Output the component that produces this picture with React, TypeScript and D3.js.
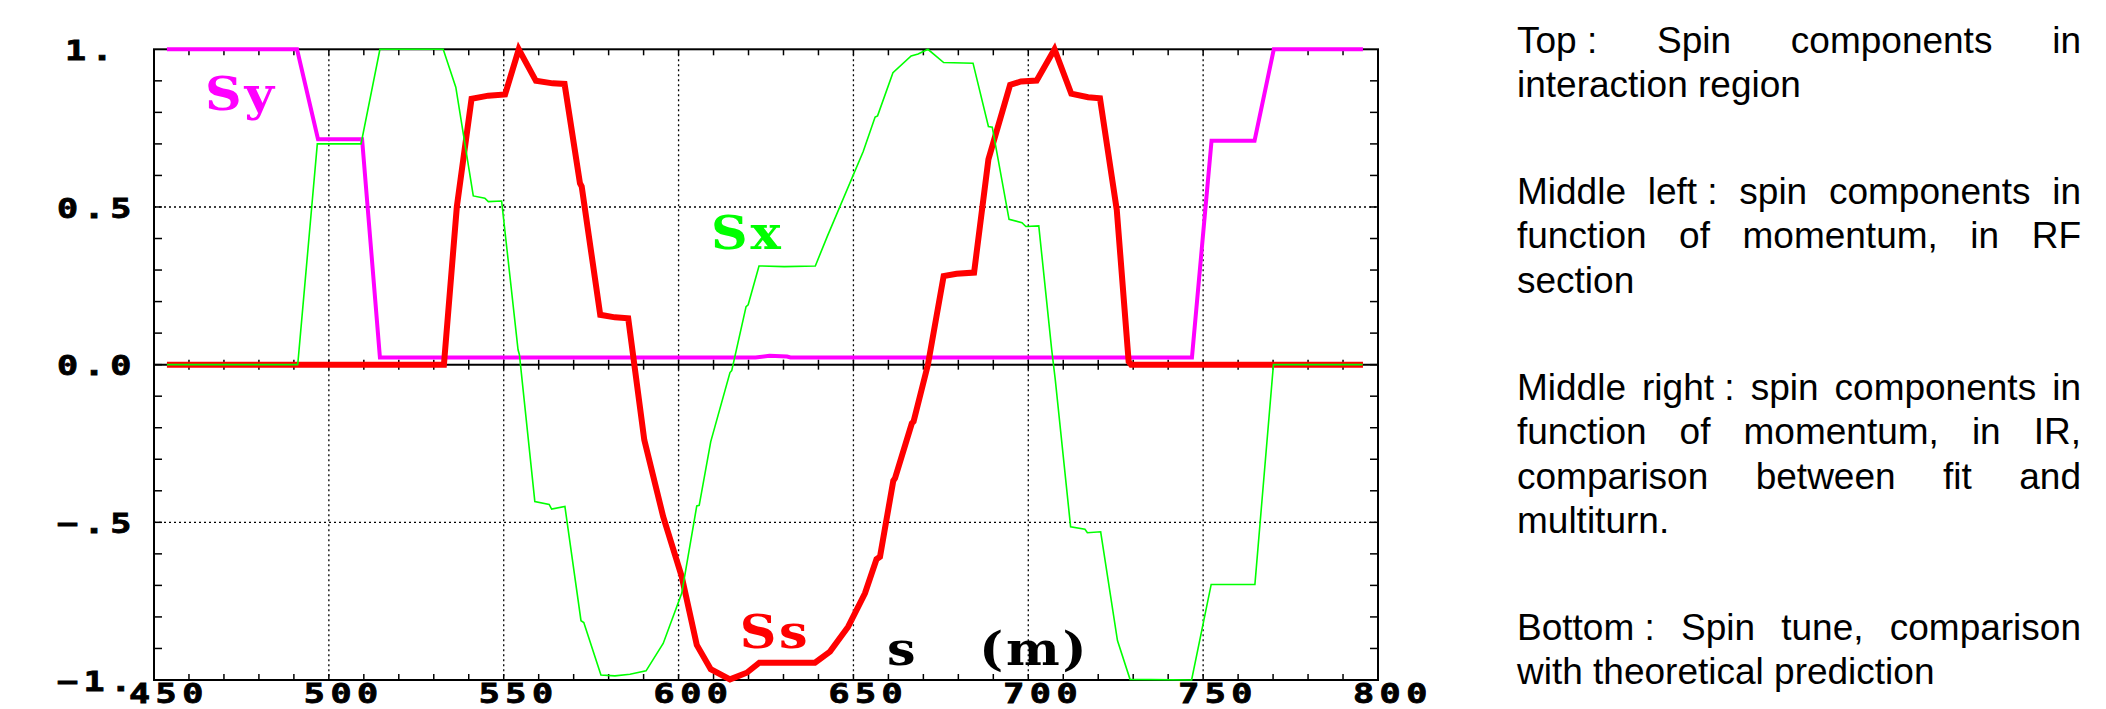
import React, { useEffect, useRef } from 'react';
import * as d3 from 'd3';

const W = 2106;
const H = 709;

// spin components along the ring, [s (m), value]
const ssPoints: [number, number][] = [
    [453.7, 0], [532.9, 0], [536.6, 0.501], [540.8, 0.843], [545.6, 0.853], [550.4, 0.857],
    [554.3, 1], [559.2, 0.9], [564.0, 0.892], [567.4, 0.89], [571.8, 0.575], [572.3, 0.565],
    [577.6, 0.158], [581.8, 0.15], [585.6, 0.147], [590.2, -0.239], [595.6, -0.482],
    [600.9, -0.672], [605.2, -0.889], [609.2, -0.966], [614.7, -0.998], [619.5, -0.977],
    [623.1, -0.945], [639.0, -0.945], [643.3, -0.91], [648.5, -0.831], [653.3, -0.725],
    [656.6, -0.617], [657.6, -0.609], [661.4, -0.368], [661.9, -0.36], [666.7, -0.186],
    [667.2, -0.18], [671.3, 0], [675.8, 0.281], [679.5, 0.288], [684.5, 0.292], [688.6, 0.651],
    [694.8, 0.887], [697.9, 0.898], [702.4, 0.901], [707.5, 1], [712.3, 0.859], [717.1, 0.848],
    [720.5, 0.845], [725.3, 0.491], [728.7, 0.01], [729.4, 0], [795.7, 0],
];

const syPoints: [number, number][] = [
    [453.7, 1], [490.9, 1], [496.9, 0.715], [509.5, 0.715], [514.6, 0.023], [622, 0.023],
    [626, 0.028], [631, 0.026], [632, 0.023], [746.8, 0.023], [752.4, 0.71], [764.7, 0.71],
    [770.2, 1], [795.7, 1],
];

const sxPoints: [number, number][] = [
    [453.7, 0], [491.1, 0], [496.7, 0.7], [509.2, 0.7], [514.6, 1], [532.7, 1], [536.3, 0.88],
    [541.3, 0.535], [544.6, 0.528], [545.6, 0.517], [549.4, 0.519], [554.1, 0.047], [554.5, 0.031],
    [558.9, -0.434], [563.0, -0.443], [563.7, -0.458], [567.5, -0.45], [572.1, -0.812],
    [572.9, -0.818], [577.8, -0.984], [581.8, -0.987], [586.1, -0.982], [590.7, -0.971],
    [595.6, -0.884], [600.9, -0.725], [605.2, -0.448], [605.9, -0.446], [609.2, -0.244],
    [614.7, -0.025], [615.2, -0.019], [619.3, 0.184], [619.9, 0.19], [623.0, 0.313],
    [630.2, 0.311], [639.1, 0.313], [642.5, 0.406], [652.8, 0.676], [656.2, 0.785],
    [656.9, 0.789], [661.3, 0.926], [666.5, 0.979], [668.5, 0.985], [671.3, 1], [675.8, 0.958],
    [684.2, 0.956], [688.6, 0.755], [689.7, 0.753], [694.5, 0.461], [698.2, 0.45],
    [699.3, 0.438], [703.0, 0.44], [706.7, 0.047], [707.7, -0.046], [712.1, -0.514],
    [716.2, -0.522], [716.9, -0.533], [720.7, -0.53], [725.5, -0.875], [729.1, -0.998],
    [746.7, -1], [752.3, -0.697], [764.8, -0.697], [770.1, 0], [795.6, 0],
];

const xTicks = [450, 500, 550, 600, 650, 700, 750, 800];
const xLabels = ['450', '500', '550', '600', '650', '700', '750', '800'];
const yTicks = [1, 0.5, 0, -0.5, -1];
const yLabels = ['1.', '0.5', '0.0', '\u2212.5', '\u22121.'];
const xGrid = [500, 550, 600, 650, 700, 750];
const yGrid = [0.5, -0.5];

const curveLabels = [
    { text: 'Sy', s: 464.6, v: 0.808, color: '#ff00ff' },
    { text: 'Sx', s: 609.3, v: 0.367, color: '#00ff00' },
    { text: 'Ss', s: 617.5, v: -0.899, color: '#ff0000' },
    { text: 's', s: 659.6, v: -0.952, color: '#000000' },
    { text: '(m)', s: 686.0, v: -0.952, color: '#000000' },
];

// notes on the right, last line of each paragraph is not justified
const paragraphs = [
    ['Top\u00a0: Spin components in', 'interaction region'],
    ['Middle left\u00a0: spin components in', 'function of momentum, in RF', 'section'],
    [
        'Middle right\u00a0: spin components in',
        'function of momentum, in IR,',
        'comparison between fit and',
        'multiturn.',
    ],
    ['Bottom\u00a0: Spin tune, comparison', 'with theoretical prediction'],
];
const paragraphTops = [53, 204, 400, 640];

const App = () => {
    const svgRef = useRef<SVGSVGElement>(null);

    useEffect(() => {
        const svg = d3.select(svgRef.current);
        svg.selectAll('*').remove();

        const x = d3.scaleLinear().domain([450, 800]).range([154, 1378]);
        const y = d3.scaleLinear().domain([-1, 1]).range([680, 49.3]);
        const [x0, x1] = x.range();
        const [y0, y1] = y.range();

        svg.append('rect').attr('width', W).attr('height', H).attr('fill', '#fff');

        // dotted grid
        const grid = svg.append('g').attr('stroke', '#000').attr('stroke-width', 1.3).attr('stroke-dasharray', '2,3');
        xGrid.forEach((s) => {
            grid.append('line').attr('x1', x(s)).attr('x2', x(s)).attr('y1', y1).attr('y2', y0);
        });
        yGrid.forEach((v) => {
            grid.append('line').attr('x1', x0).attr('x2', x1).attr('y1', y(v)).attr('y2', y(v));
        });

        // minor ticks
        const ticks = svg.append('g').attr('stroke', '#000').attr('stroke-width', 1.5);
        d3.range(460, 800, 10).forEach((s) => {
            ticks.append('line').attr('x1', x(s)).attr('x2', x(s)).attr('y1', y1).attr('y2', y1 + 6);
            ticks.append('line').attr('x1', x(s)).attr('x2', x(s)).attr('y1', y0).attr('y2', y0 - 6);
            ticks.append('line').attr('x1', x(s)).attr('x2', x(s)).attr('y1', y(0) - 5).attr('y2', y(0) + 5);
        });
        d3.range(-9, 10).forEach((k) => {
            const v = k / 10;
            ticks.append('line').attr('x1', x0).attr('x2', x0 + 8).attr('y1', y(v)).attr('y2', y(v));
            ticks.append('line').attr('x1', x1).attr('x2', x1 - 8).attr('y1', y(v)).attr('y2', y(v));
        });

        // zero axis and frame
        svg.append('line')
            .attr('x1', x0).attr('x2', x1).attr('y1', y(0)).attr('y2', y(0))
            .attr('stroke', '#000').attr('stroke-width', 2);
        svg.append('rect')
            .attr('x', x0).attr('y', y1).attr('width', x1 - x0).attr('height', y0 - y1)
            .attr('fill', 'none').attr('stroke', '#000').attr('stroke-width', 2);

        const line = d3.line<[number, number]>().x((d) => x(d[0])).y((d) => y(d[1]));
        const curves = [
            { pts: syPoints, color: '#ff00ff', width: 4 },
            { pts: ssPoints, color: '#ff0000', width: 6 },
            { pts: sxPoints, color: '#00ff00', width: 1.6 },
        ];
        curves.forEach((c) => {
            svg.append('path')
                .attr('d', line(c.pts))
                .attr('fill', 'none')
                .attr('stroke', c.color)
                .attr('stroke-width', c.width)
                .attr('stroke-linejoin', 'miter');
        });

        // tick labels, wide bold mono digits
        const tickFont = (sel) =>
            sel.attr('font-family', '"DejaVu Sans Mono", monospace')
                .attr('font-weight', 'bold')
                .attr('font-size', 27)
                .attr('letter-spacing', 4.2)
                .attr('fill', '#000')
                .attr('stroke', '#000')
                .attr('stroke-width', 0.8);
        yTicks.forEach((v, i) => {
            const lx = yLabels[i].length === 2 && yLabels[i][0] !== '\u2212' ? 65 : 57;
            tickFont(svg.append('text'))
                .attr('transform', `translate(${lx},${y(v) + 10.8}) scale(1.3,1)`)
                .text(yLabels[i]);
        });
        xTicks.forEach((s, i) => {
            tickFont(svg.append('text'))
                .attr('transform', `translate(${x(s) - 25},${y0 + 23}) scale(1.3,1)`)
                .text(xLabels[i]);
        });

        // curve names and axis title
        curveLabels.forEach((l) => {
            svg.append('text')
                .attr('transform', `translate(${x(l.s)},${y(l.v)}) scale(1.08,1)`)
                .attr('font-family', '"DejaVu Serif", serif')
                .attr('font-weight', 'bold')
                .attr('font-size', 47)
                .attr('letter-spacing', 2.5)
                .attr('fill', l.color)
                .text(l.text);
        });

        // justified notes
        const textX = 1517;
        const textW = 564;
        const lineStep = 44.3;
        const notes = svg.append('g')
            .attr('font-family', '"Liberation Sans", Arial, sans-serif')
            .attr('font-size', 37)
            .attr('fill', '#000');
        paragraphs.forEach((lines, pi) => {
            lines.forEach((ln, li) => {
                const yy = paragraphTops[pi] + li * lineStep;
                const justify = li < lines.length - 1;
                if (!justify) {
                    notes.append('text').attr('x', textX).attr('y', yy).text(ln);
                    return;
                }
                const words = ln.split(' ');
                const t = notes.append('text').attr('y', yy);
                const spans = words.map((w) => t.append('tspan').text(w));
                const widths = spans.map((sp) => (sp.node() as SVGTSpanElement).getComputedTextLength());
                const gap = (textW - d3.sum(widths)) / (words.length - 1);
                let cx = textX;
                spans.forEach((sp, i) => {
                    sp.attr('x', cx);
                    cx += widths[i] + gap;
                });
            });
        });
    }, []);

    return (
        <svg
            ref={svgRef}
            width={W}
            height={H}
            style={{ position: 'absolute', left: 0, top: 0, display: 'block' }}
        />
    );
};

export default App;
